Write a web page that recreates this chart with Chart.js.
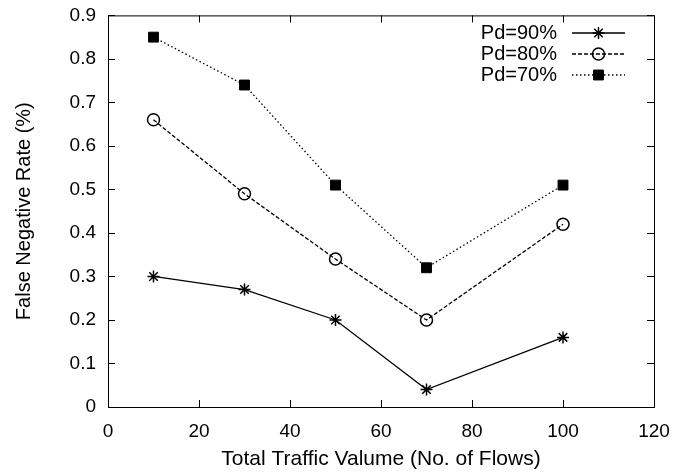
<!DOCTYPE html>
<html>
<head>
<meta charset="utf-8">
<script src="https://cdn.jsdelivr.net/npm/chart.js@4"></script>
<style>
  html, body { margin: 0; padding: 0; background: #fff; }
  #wrap { width: 687px; height: 474px; }
</style>
</head>
<body>
<div id="wrap"><canvas id="chart"></canvas></div>
<script>
// data
const flows = [10, 30, 50, 70, 100];
const pd90 = [0.30, 0.27, 0.20, 0.04, 0.16];
const pd80 = [0.66, 0.49, 0.34, 0.20, 0.42];
const pd70 = [0.85, 0.74, 0.51, 0.32, 0.51];
const seriesNames = ['Pd=90%', 'Pd=80%', 'Pd=70%'];

const FONT = '"Liberation Sans", Arial, Helvetica, sans-serif';

const toPoints = vals => flows.map((x, i) => ({ x: x, y: vals[i] }));

// gnuplot-like frame with inward ticks and legend on the right
const framePlugin = {
    id: 'frame',
    afterDraw(chart) {
        const ctx = chart.ctx;
        const a = chart.chartArea;
        const xs = chart.scales.x, ys = chart.scales.y;
        ctx.save();
        ctx.strokeStyle = '#000';
        ctx.lineWidth = 1;
        ctx.setLineDash([]);
        ctx.strokeRect(a.left + 0.5, a.top + 0.5, a.right - a.left, a.bottom - a.top);
        const t = 7;
        ctx.beginPath();
        xs.ticks.forEach(tk => {
            const px = Math.round(xs.getPixelForValue(tk.value)) + 0.5;
            ctx.moveTo(px, a.bottom); ctx.lineTo(px, a.bottom - t);
            ctx.moveTo(px, a.top); ctx.lineTo(px, a.top + t);
        });
        ys.ticks.forEach(tk => {
            const py = Math.round(ys.getPixelForValue(tk.value)) + 0.5;
            ctx.moveTo(a.left, py); ctx.lineTo(a.left + t, py);
            ctx.moveTo(a.right, py); ctx.lineTo(a.right - t, py);
        });
        ctx.stroke();

        // legend
        ctx.font = '20px ' + FONT;
        ctx.textAlign = 'right';
        ctx.textBaseline = 'middle';
        const textRight = a.right - 97;
        chart.data.datasets.forEach((ds, i) => {
            const y = 33 + i * 21;
            ctx.fillStyle = '#000';
            ctx.fillText(ds.label, textRight, y);
            const x0 = a.right - 82, x1 = a.right - 29;
            ctx.beginPath();
            ctx.strokeStyle = '#000';
            ctx.setLineDash(ds.borderDash || []);
            ctx.lineWidth = ds.borderWidth;
            ctx.moveTo(x0, y); ctx.lineTo(x1, y);
            ctx.stroke();
            ctx.setLineDash([]);
            ctx.fillStyle = ds.pointBackgroundColor;
            ctx.strokeStyle = ds.pointBorderColor;
            ctx.lineWidth = ds.pointBorderWidth;
            Chart.helpers.drawPoint(ctx, {
                pointStyle: ds.pointStyle,
                radius: ds.pointRadius,
                borderWidth: ds.pointBorderWidth
            }, (x0 + x1) / 2, y);
        });
        ctx.restore();
    }
};

new Chart(document.getElementById('chart'), {
    type: 'scatter',
    data: {
        datasets: [
            {
                label: seriesNames[0],
                data: toPoints(pd90),
                showLine: true,
                borderColor: '#000',
                backgroundColor: '#000',
                borderWidth: 1.3,
                pointStyle: 'star',
                pointRadius: 6,
                pointBorderWidth: 1.5,
                pointBackgroundColor: '#000',
                pointBorderColor: '#000'
            },
            {
                label: seriesNames[1],
                data: toPoints(pd80),
                showLine: true,
                borderColor: '#000',
                backgroundColor: '#fff',
                borderWidth: 1.3,
                borderDash: [4, 2],
                pointStyle: 'circle',
                pointRadius: 6,
                pointBorderWidth: 1.5,
                pointBackgroundColor: 'rgba(255,255,255,0)',
                pointBorderColor: '#000'
            },
            {
                label: seriesNames[2],
                data: toPoints(pd70),
                showLine: true,
                borderColor: '#000',
                backgroundColor: '#000',
                borderWidth: 1.3,
                borderDash: [1.5, 2.5],
                pointStyle: 'rect',
                pointRadius: 7,
                pointBorderWidth: 1,
                pointBackgroundColor: '#000',
                pointBorderColor: '#000'
            }
        ]
    },
    options: {
        responsive: true,
        maintainAspectRatio: false,
        animation: false,
        layout: { padding: { left: 0, top: 15, right: 33, bottom: 0 } },
        plugins: {
            legend: { display: false },
            tooltip: { enabled: false }
        },
        scales: {
            x: {
                type: 'linear',
                min: 0,
                max: 120,
                grid: { display: false },
                border: { display: false },
                ticks: {
                    stepSize: 20,
                    color: '#000',
                    padding: 5,
                    font: { family: FONT, size: 19 }
                },
                title: {
                    display: true,
                    text: 'Total Traffic Valume (No. of Flows)',
                    color: '#000',
                    padding: { top: 0, bottom: 2 },
                    font: { family: FONT, size: 21 }
                },
                afterFit(scale) { scale.height = 67; }
            },
            y: {
                type: 'linear',
                min: 0,
                max: 0.9,
                grid: { display: false },
                border: { display: false },
                ticks: {
                    stepSize: 0.1,
                    color: '#000',
                    padding: 4,
                    font: { family: FONT, size: 19 },
                    callback: v => Math.round(v * 10) / 10
                },
                title: {
                    display: true,
                    text: 'False Negative Rate (%)',
                    color: '#000',
                    padding: { top: 12, bottom: 0 },
                    font: { family: FONT, size: 20 }
                },
                afterFit(scale) { scale.width = 108; }
            }
        }
    },
    plugins: [framePlugin]
});
</script>
</body>
</html>
